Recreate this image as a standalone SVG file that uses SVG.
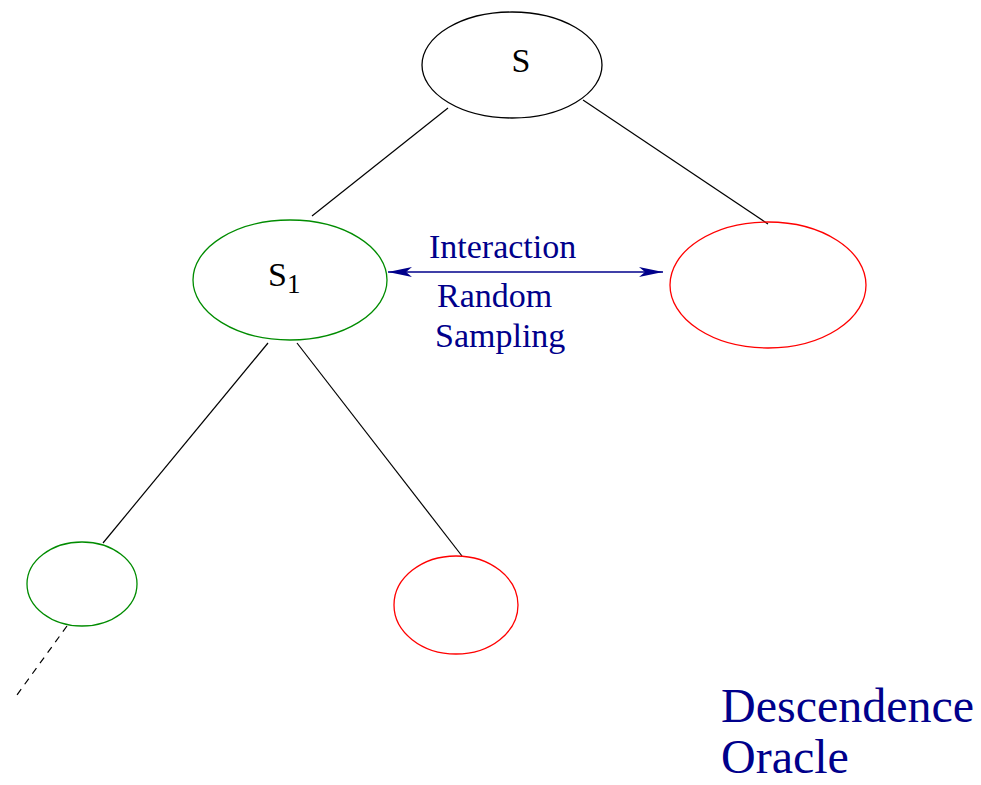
<svg xmlns="http://www.w3.org/2000/svg" width="981" height="785" viewBox="0 0 981 785">
<style>
.node{fill:none;stroke-width:1.3}
.blk{stroke:#000}
.grn{stroke:#008c00}
.red{stroke:#ff0000}
.edge{stroke:#000;stroke-width:1.2;fill:none}
.lbl{font-family:"Liberation Serif",serif;fill:#000}
.blue{font-family:"Liberation Serif",serif;fill:#00008b}
</style>
<defs>
<marker id="ah" viewBox="0 0 24 10" refX="24" refY="5" markerWidth="24" markerHeight="10" markerUnits="userSpaceOnUse" orient="auto-start-reverse">
<path d="M0,0 L24,5 L0,10 L6,5 Z" fill="#00008b"/>
</marker>
</defs>
<g id="connectors">
<line class="edge" x1="448" y1="108" x2="312" y2="216"/>
<line class="edge" x1="583" y1="100" x2="768" y2="224"/>
<line class="edge" x1="268" y1="343" x2="103" y2="543"/>
<line class="edge" x1="297" y1="343" x2="462" y2="556"/>
<line class="edge" x1="67" y1="626" x2="14" y2="699" stroke-dasharray="7,6"/>
<line x1="388" y1="272" x2="663" y2="272" stroke="#00008b" stroke-width="1.5" marker-start="url(#ah)" marker-end="url(#ah)"/>
</g>
<g id="node-s">
<ellipse class="node blk" cx="512" cy="65" rx="90" ry="53"/>
<text class="lbl" x="521" y="72" font-size="34" text-anchor="middle">S</text>
</g>
<g id="node-s1">
<ellipse class="node grn" cx="290" cy="280" rx="97" ry="60"/>
<text class="lbl" x="268" y="286" font-size="34">S<tspan font-size="27" dy="7">1</tspan></text>
</g>
<g id="node-right">
<ellipse class="node red" cx="768" cy="285" rx="98" ry="63"/>
</g>
<g id="node-bl">
<ellipse class="node grn" cx="82" cy="584" rx="55" ry="42"/>
</g>
<g id="node-br">
<ellipse class="node red" cx="456" cy="605" rx="62" ry="49"/>
</g>
<g id="labels">
<text class="blue" x="721" y="722" font-size="48">Descendence</text>
<text class="blue" x="721" y="773" font-size="48">Oracle</text>
<text class="blue" x="429" y="258" font-size="34">Interaction</text>
<text class="blue" x="437" y="307" font-size="34">Random</text>
<text class="blue" x="435" y="347" font-size="34">Sampling</text>
</g>
</svg>
